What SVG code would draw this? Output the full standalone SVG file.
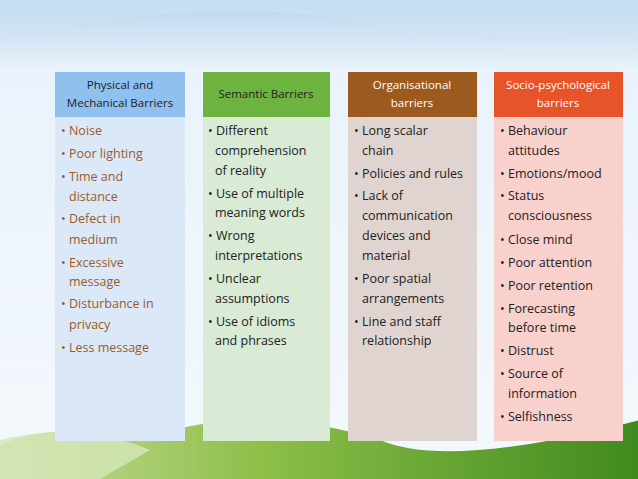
<svg xmlns="http://www.w3.org/2000/svg" width="638" height="479" viewBox="0 0 638 479">
<defs>
<linearGradient id="sky" x1="0" y1="0" x2="0" y2="1"><stop offset="0" stop-color="#b9d6ee"/><stop offset="0.15" stop-color="#eaf3fb"/><stop offset="1" stop-color="#f3f8fc"/></linearGradient>
<linearGradient id="hill" x1="0" y1="0" x2="1" y2="0"><stop offset="0" stop-color="#c8dca0"/><stop offset="0.4" stop-color="#8fc04a"/><stop offset="1" stop-color="#3f8a1e"/></linearGradient>
</defs>
<style>
.t{font-family:"Open Sans","DejaVu Sans",sans-serif;font-size:12.5px;fill:#222}
.b{fill:#9a5a2a}
.h{font-family:"Open Sans","DejaVu Sans",sans-serif;font-size:11.5px;text-anchor:middle}
</style>
<rect width="638" height="479" fill="url(#sky)"/>
<path d="M0 0 H638 V30 Q500 55 350 20 Q200 -5 0 40 Z" fill="#cfe2f3" opacity="0.6"/>
<path d="M0 445 Q60 420 140 440 Q250 400 380 440 Q450 470 640 420 V479 H0 Z" fill="url(#hill)"/>
<path d="M0 440 Q80 420 150 450 L100 479 H0 Z" fill="#d6e6b8" opacity="0.8"/>
<g id="col1">
<rect x="55" y="72" width="130" height="369" fill="#dbe8f8"/>
<rect x="55" y="72" width="130" height="45" fill="#8fc0ee"/>
<text class="h" x="120" y="89" fill="#222">Physical and</text>
<text class="h" x="120" y="107" fill="#222">Mechanical Barriers</text>
<g class="t b">
<text x="61" y="135">• Noise</text><text x="61" y="158">• Poor  lighting</text><text x="61" y="181">• Time and</text><text x="69" y="201">distance</text><text x="61" y="223">• Defect in</text><text x="69" y="244">medium</text><text x="61" y="267">• Excessive</text><text x="69" y="286">message</text><text x="61" y="308">• Disturbance in</text><text x="69" y="329">privacy</text><text x="61" y="352">• Less message</text>
</g></g>
<g id="col2">
<rect x="203" y="72" width="127" height="369" fill="#d9ead5"/>
<rect x="203" y="72" width="127" height="45" fill="#6db33f"/>
<text class="h" x="266" y="98" fill="#222">Semantic Barriers</text>
<g class="t">
<text x="208" y="135">• Different</text><text x="215" y="155">comprehension</text><text x="215" y="175">of reality</text><text x="208" y="198">• Use of multiple</text><text x="215" y="217">meaning words</text><text x="208" y="240">• Wrong</text><text x="215" y="260">interpretations</text><text x="208" y="283">• Unclear</text><text x="215" y="303">assumptions</text><text x="208" y="326">• Use of idioms</text><text x="215" y="345">and phrases</text>
</g></g>
<g id="col3">
<rect x="348" y="72" width="129" height="369" fill="#e0d4d0"/>
<rect x="348" y="72" width="129" height="45" fill="#9c5a1e"/>
<text class="h" x="412" y="89" fill="#fff">Organisational</text>
<text class="h" x="412" y="107" fill="#fff">barriers</text>
<g class="t">
<text x="354" y="135">• Long scalar</text><text x="362" y="155">chain</text><text x="354" y="178">• Policies and rules</text><text x="354" y="200">• Lack of</text><text x="362" y="220">communication</text><text x="362" y="240">devices and</text><text x="362" y="260">material</text><text x="354" y="283">• Poor spatial</text><text x="362" y="303">arrangements</text><text x="354" y="326">• Line and staff</text><text x="362" y="345">relationship</text>
</g></g>
<g id="col4">
<rect x="494" y="72" width="129" height="369" fill="#f8d0cc"/>
<rect x="494" y="72" width="129" height="45" fill="#e8542a"/>
<text class="h" x="558" y="89" fill="#fff">Socio-psychological</text>
<text class="h" x="558" y="107" fill="#fff">barriers</text>
<g class="t">
<text x="500" y="135">• Behaviour</text><text x="508" y="155">attitudes</text><text x="500" y="178">• Emotions/mood</text><text x="500" y="200">• Status</text><text x="508" y="220">consciousness</text><text x="500" y="244">• Close mind</text><text x="500" y="267">• Poor attention</text><text x="500" y="290">• Poor retention</text><text x="500" y="313">• Forecasting</text><text x="508" y="332">before time</text><text x="500" y="355">• Distrust</text><text x="500" y="378">• Source of</text><text x="508" y="398">information</text><text x="500" y="421">• Selfishness</text>
</g></g>
</svg>
